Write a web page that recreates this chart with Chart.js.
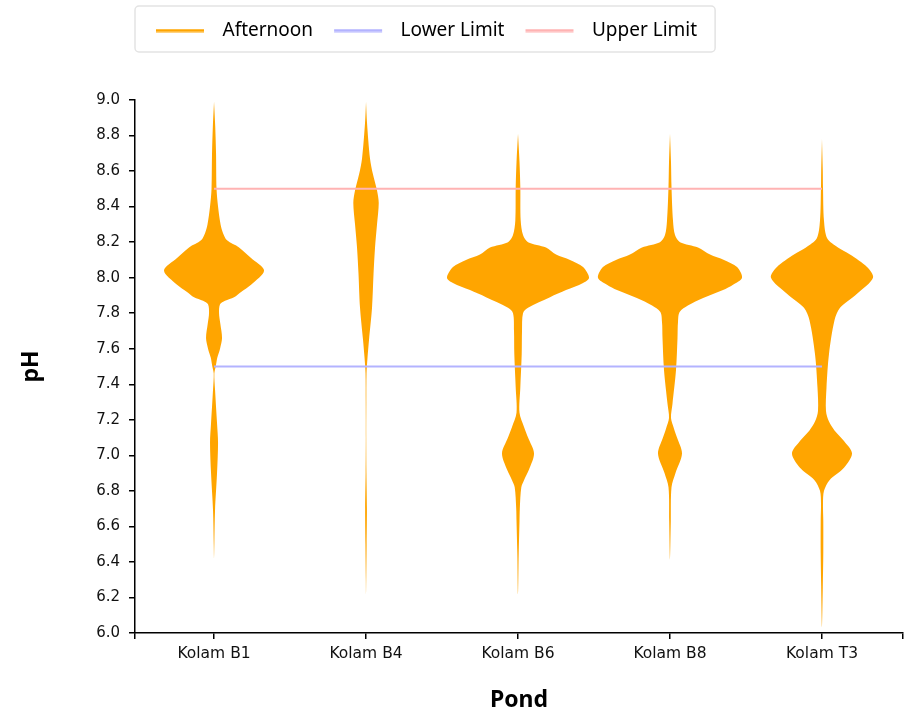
<!DOCTYPE html>
<html>
<head>
<meta charset="utf-8">
<title>pH per pond</title>
<script src="https://cdn.jsdelivr.net/npm/chart.js"></script>
<style>
  html, body { margin: 0; padding: 0; background: #fff; }
  #chart { display: block; }
</style>
</head>
<body>
<canvas id="chart" width="906" height="722"></canvas>
<script>
// ponds along the x axis
const ponds = ['Kolam B1', 'Kolam B4', 'Kolam B6', 'Kolam B8', 'Kolam T3'];

// afternoon pH density per pond (kde, top to bottom)
const phB1  = [8.99, 8.85, 8.7, 8.5, 8.4, 8.3, 8.25, 8.21, 8.17, 8.11, 8.04, 7.96, 7.92, 7.89, 7.87, 7.85, 7.8, 7.74, 7.66, 7.6, 7.55, 7.5, 7.46, 7.37, 7.18, 7.07, 6.9, 6.69, 6.5, 6.42];
const denB1 = [0, 1.2, 2, 2.5, 4, 6.5, 9, 13, 25, 37, 50, 37, 27, 20, 11, 6, 5, 6.3, 8, 6, 3.3, 1.7, 0.3, 1, 3, 4, 3, 1, 0.3, 0];

const phB4  = [8.99, 8.87, 8.67, 8.58, 8.49, 8.42, 8.3, 8.17, 8.02, 7.83, 7.65, 7.55, 7.46, 7.3, 7.1, 6.9, 6.7, 6.5, 6.3, 6.22];
const denB4 = [0, 1, 4, 7, 11, 12.7, 11, 9, 7.5, 6, 3, 1.5, 0.5, 0.3, 0.2, 0.4, 0.9, 0.6, 0.2, 0];

const phB6  = [8.81, 8.65, 8.51, 8.32, 8.24, 8.2, 8.17, 8.13, 8.1, 8.06, 8.0, 7.97, 7.93, 7.89, 7.83, 7.8, 7.7, 7.57, 7.38, 7.24, 7.16, 7.1, 7.01, 6.92, 6.86, 6.82, 6.7, 6.63, 6.45, 6.22];
const denB6 = [0, 1.5, 2.3, 2.7, 5, 10, 28, 38, 52, 65, 71, 65, 48, 32, 10, 5, 4, 3.7, 2.3, 1.5, 6, 10, 16, 11, 6, 3.3, 1.8, 1.5, 0.7, 0];

const phB8  = [8.81, 8.65, 8.51, 8.32, 8.24, 8.2, 8.17, 8.13, 8.1, 8.06, 8.0, 7.96, 7.93, 7.87, 7.81, 7.75, 7.66, 7.48, 7.29, 7.21, 7.15, 7.1, 7.01, 6.9, 6.82, 6.63, 6.41];
const denB8 = [0, 1, 1.5, 3, 5, 10, 28, 40, 54, 67, 72, 63, 53, 27, 10, 8, 7.5, 6, 2.5, 1, 4, 7, 12, 5.5, 1.5, 0.8, 0];

const phT3  = [8.78, 8.6, 8.51, 8.32, 8.22, 8.17, 8.13, 8.06, 8.0, 7.91, 7.83, 7.76, 7.57, 7.38, 7.25, 7.19, 7.14, 7.08, 7.01, 6.93, 6.86, 6.8, 6.73, 6.63, 6.45, 6.26, 6.03];
const denT3 = [0, 0.8, 1, 2, 5.3, 16, 28, 45, 51, 35, 18, 12.5, 7, 4.5, 4, 7, 12.5, 22, 30, 22, 7.5, 2, 1, 1.3, 1.3, 0.8, 0];

const phSeries  = [phB1, phB4, phB6, phB8, phT3];
const denSeries = [denB1, denB4, denB6, denB8, denT3];

// limits
const lowerLimit = 7.5;
const upperLimit = 8.5;

// y axis range
const yMin = 6, yMax = 9, yStep = 0.2;

const legendNames  = ['Afternoon', 'Lower Limit', 'Upper Limit'];
const legendColors = ['#FFA500', '#b3b3ff', '#ffb3b3'];

const HALF = 0.474;   // widest violin half-width, in category units
const maxDen = Math.max(...denSeries.map(d => Math.max(...d)));

function violinPoints(idx, ph, den) {
  const right = ph.map((p, i) => ({ x: idx + den[i] / maxDen * HALF, y: p }));
  const left = ph.map((p, i) => ({ x: idx - den[i] / maxDen * HALF, y: p })).reverse();
  return right.concat(left.slice(1));
}

const datasets = [];
phSeries.forEach((ph, i) => {
  datasets.push({
    label: 'Afternoon',
    data: violinPoints(i, ph, denSeries[i]),
    backgroundColor: '#FFA500',
    borderColor: 'rgba(255,165,0,0)',
    borderWidth: 1,
    fill: 'shape',
    tension: 0.3,
    pointRadius: 0,
    order: 2
  });
});
datasets.push({
  label: 'Lower Limit',
  data: [{ x: 0, y: lowerLimit }, { x: ponds.length - 1, y: lowerLimit }],
  borderColor: '#b3b3ff', borderWidth: 2, pointRadius: 0, fill: false, order: 0
});
datasets.push({
  label: 'Upper Limit',
  data: [{ x: 0, y: upperLimit }, { x: ponds.length - 1, y: upperLimit }],
  borderColor: '#ffb3b3', borderWidth: 2, pointRadius: 0, fill: false, order: 0
});

// legend swatch: short line inside a wider box so the text sits further right
const SW_BOX = 72, SW_OFF = 15, SW_LEN = 48;
function swatch(color) {
  const c = document.createElement('canvas');
  c.width = SW_BOX; c.height = 4;
  const g = c.getContext('2d');
  g.fillStyle = color;
  g.fillRect(SW_OFF, 0.5, SW_LEN, 3);
  return c;
}

// draws the frame round the legend and adds room below it
const legendFrame = {
  id: 'legendFrame',
  beforeInit(chart) {
    const fit = chart.legend.fit;
    chart.legend.fit = function () {
      fit.bind(chart.legend)();
      this.height += 50;
    };
  },
  afterDraw(chart) {
    const hb = chart.legend.legendHitBoxes;
    if (!hb || !hb.length) return;
    const first = hb[0], last = hb[hb.length - 1];
    const x0 = first.left + SW_OFF - 21;
    const x1 = last.left + last.width + 18;
    const y0 = first.top - 15;
    const y1 = first.top + first.height + 12;
    const ctx = chart.ctx;
    ctx.save();
    ctx.strokeStyle = '#e3e3e3';
    ctx.lineWidth = 1.5;
    ctx.beginPath();
    ctx.roundRect(x0, y0, x1 - x0, y1 - y0, 4);
    ctx.stroke();
    ctx.restore();
  }
};

const titleFont = { family: 'Noto Sans', size: 23, weight: 'bold', lineHeight: 1.2 };

new Chart(document.getElementById('chart'), {
  type: 'line',
  data: { datasets },
  plugins: [legendFrame],
  options: {
    responsive: false,
    animation: false,
    layout: { padding: { top: 15, right: 0, left: 0, bottom: 0 } },
    plugins: {
      tooltip: { enabled: false },
      legend: {
        position: 'top',
        align: 'start',
        fullSize: false,
        onClick: null,
        labels: {
          usePointStyle: true,
          pointStyleWidth: SW_BOX,
          padding: 6,
          color: '#222',
          font: { family: 'Noto Sans', size: 19 },
          generateLabels: () => legendNames.map((t, i) => ({
            text: t,
            pointStyle: swatch(legendColors[i]),
            fillStyle: legendColors[i],
            strokeStyle: legendColors[i],
            lineWidth: 0,
            hidden: false,
            datasetIndex: i
          }))
        }
      }
    },
    scales: {
      x: {
        type: 'linear',
        min: -0.52,
        max: ponds.length - 0.467,
        afterBuildTicks: (s) => {
          s.ticks = [s.min].concat(ponds.map((p, i) => i), [s.max]).map(v => ({ value: v }));
        },
        afterFit: (s) => { s.height = 89; s.paddingLeft = 0; s.paddingRight = 3; },
        ticks: {
          autoSkip: false,
          maxRotation: 0,
          padding: 6,
          color: '#111',
          font: { family: 'DejaVu Sans', size: 15.5 },
          callback: (v) => Number.isInteger(v) ? ponds[v] : ''
        },
        grid: { drawOnChartArea: false, drawTicks: true, tickLength: 6, color: '#000', tickColor: '#000', lineWidth: 1.5 },
        border: { display: true, color: '#000', width: 1.5 },
        title: { display: true, text: 'Pond', color: '#000', font: titleFont, padding: { top: 0, bottom: 8 } }
      },
      y: {
        type: 'linear',
        min: yMin,
        max: yMax,
        afterFit: (s) => { s.width = 135; },
        ticks: {
          stepSize: yStep,
          padding: 9,
          color: '#111',
          font: { family: 'DejaVu Sans', size: 15 },
          callback: (v) => Number(v).toFixed(1)
        },
        grid: { drawOnChartArea: false, drawTicks: true, tickLength: 6, color: '#000', tickColor: '#000', lineWidth: 1.5 },
        border: { display: true, color: '#000', width: 1.5 },
        title: { display: true, text: 'pH', color: '#000', font: titleFont, padding: { top: 18, bottom: 0 } }
      }
    }
  }
});
</script>
</body>
</html>
